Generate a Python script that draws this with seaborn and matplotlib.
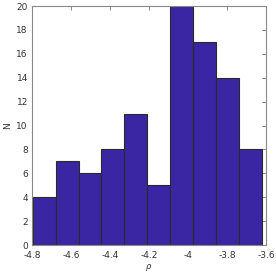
import numpy as np
import pandas as pd
import matplotlib
matplotlib.use("Agg")
import matplotlib.pyplot as plt
import seaborn as sns

# --- histogram data ---
counts = [4, 7, 6, 8, 11, 5, 20, 17, 14, 8]
rho_min = -4.796
rho_max = -3.623
x_ticks = [-4.8, -4.6, -4.4, -4.2, -4.0, -3.8, -3.6]
x_tick_labels = ["-4.8", "-4.6", "-4.4", "-4.2", "-4", "-3.8", "-3.6"]
y_ticks = [0, 2, 4, 6, 8, 10, 12, 14, 16, 18, 20]

edges = np.linspace(rho_min, rho_max, len(counts) + 1)
centers = (edges[:-1] + edges[1:]) / 2
df = pd.DataFrame({"rho": centers, "n": counts})

sns.set_style("white")
plt.rcParams["font.family"] = ["DejaVu Sans"]

fig = plt.figure(figsize=(2.76, 2.76), dpi=100)
ax = fig.add_axes([0.116, 0.112, 0.848, 0.866])

sns.histplot(data=df, x="rho", weights="n", bins=len(counts),
             binrange=(rho_min, rho_max), ax=ax,
             color="#3a26a3", alpha=1.0, edgecolor="#2a2a2a", linewidth=0.8)

ax.set_xlim(-4.8, -3.6)
ax.set_ylim(0, 20)
ax.set_xticks(x_ticks)
ax.set_xticklabels(x_tick_labels)
ax.set_yticks(y_ticks)
ax.set_xlabel(r"$\rho$", fontsize=6, color="#333333", labelpad=2)
ax.set_ylabel("N", fontsize=6.5, color="#333333", labelpad=3)

ax.tick_params(direction="in", length=3, width=0.6, colors="#333333",
               labelsize=6.5, top=True, right=True)
ax.tick_params(axis="x", pad=4)
ax.tick_params(axis="y", pad=3)
ax.tick_params(axis="both", which="both", color="#777777")
for s in ax.spines.values():
    s.set_color("#888888")
    s.set_linewidth(0.8)

fig.savefig("out.png", dpi=100)
